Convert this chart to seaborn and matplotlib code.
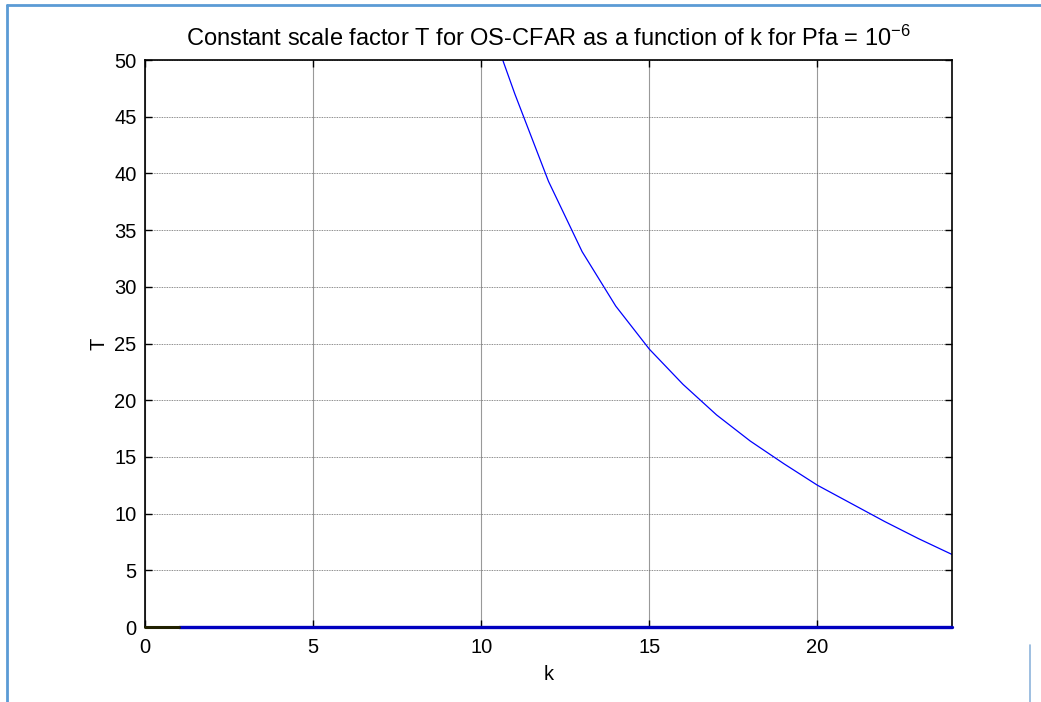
import matplotlib
matplotlib.use("Agg")
import matplotlib.pyplot as plt
from matplotlib.lines import Line2D
import seaborn as sns
import pandas as pd

# Data
k_vals = [10, 11, 12, 13, 14, 15, 16, 17, 18, 19, 20, 21, 22, 23, 24]
T_vals = [55.3, 47.0, 39.3, 33.1, 28.3, 24.5, 21.4, 18.7, 16.4, 14.4, 12.5, 10.9, 9.3, 7.8, 6.4]
zero_k = [1, 24]
zero_T = [0, 0]
start_k = [0, 1]
start_T = [0, 0]

sns.set_theme(style="white")
plt.rcParams['font.family'] = ['Liberation Sans', 'DejaVu Sans']
plt.rcParams['mathtext.fontset'] = 'custom'
plt.rcParams['mathtext.rm'] = 'Liberation Sans'
plt.rcParams['mathtext.it'] = 'Liberation Sans'
plt.rcParams['text.color'] = 'black'
plt.rcParams['axes.labelcolor'] = 'black'

fig = plt.figure(figsize=(10.41, 7.02), dpi=100)
ax = fig.add_axes([0.1393, 0.1068, 0.9145 - 0.1393, 0.9145 - 0.1068])

df = pd.DataFrame({"k": k_vals, "T": T_vals})
sns.lineplot(data=df, x="k", y="T", ax=ax, color="#0000ff", linewidth=0.9)
sns.lineplot(x=zero_k, y=zero_T, ax=ax, color="#0000c0", linewidth=2.4, clip_on=False, zorder=5)
sns.lineplot(x=start_k, y=start_T, ax=ax, color="#202000", linewidth=2.2, clip_on=False, zorder=5)

ax.set_xlim(0, 24)
ax.set_ylim(0, 50)
ax.set_xticks([0, 5, 10, 15, 20])
ax.set_yticks(range(0, 51, 5))
ax.grid(True, axis="y", color="#666666", linestyle=(0, (1, 1)), linewidth=0.6)
ax.grid(True, axis="x", color="#999999", linestyle="-", linewidth=0.8)
for s in ax.spines.values():
    s.set_color("black")
    s.set_linewidth(1.2)
ax.tick_params(axis="both", direction="in", length=5, width=1, colors="black",
               labelsize=14.5, top=True, right=True, bottom=True, left=True)
ax.tick_params(axis="x", pad=8)
ax.tick_params(axis="y", pad=6)
ax.set_xlabel("k", fontsize=14.5, labelpad=6, color="black")
ax.set_ylabel("T", fontsize=14.5, labelpad=4, color="black")
ax.set_title("Constant scale factor T for OS-CFAR as a function of k for Pfa = 10$^{-6}$",
             fontsize=17, pad=10, color="black")

# light blue frame around the picture
fig.add_artist(Line2D([6.5 / 1041, 6.5 / 1041], [0, 1 - 5 / 702], transform=fig.transFigure,
                      color="#5b9bd5", linewidth=2))
fig.add_artist(Line2D([6.5 / 1041, 1], [1 - 5 / 702, 1 - 5 / 702], transform=fig.transFigure,
                      color="#5b9bd5", linewidth=2))
fig.add_artist(Line2D([1030 / 1041, 1030 / 1041], [0, 1 - 645 / 702], transform=fig.transFigure,
                      color="#8eb4dc", linewidth=1.2))

fig.savefig("out.png", dpi=100)
